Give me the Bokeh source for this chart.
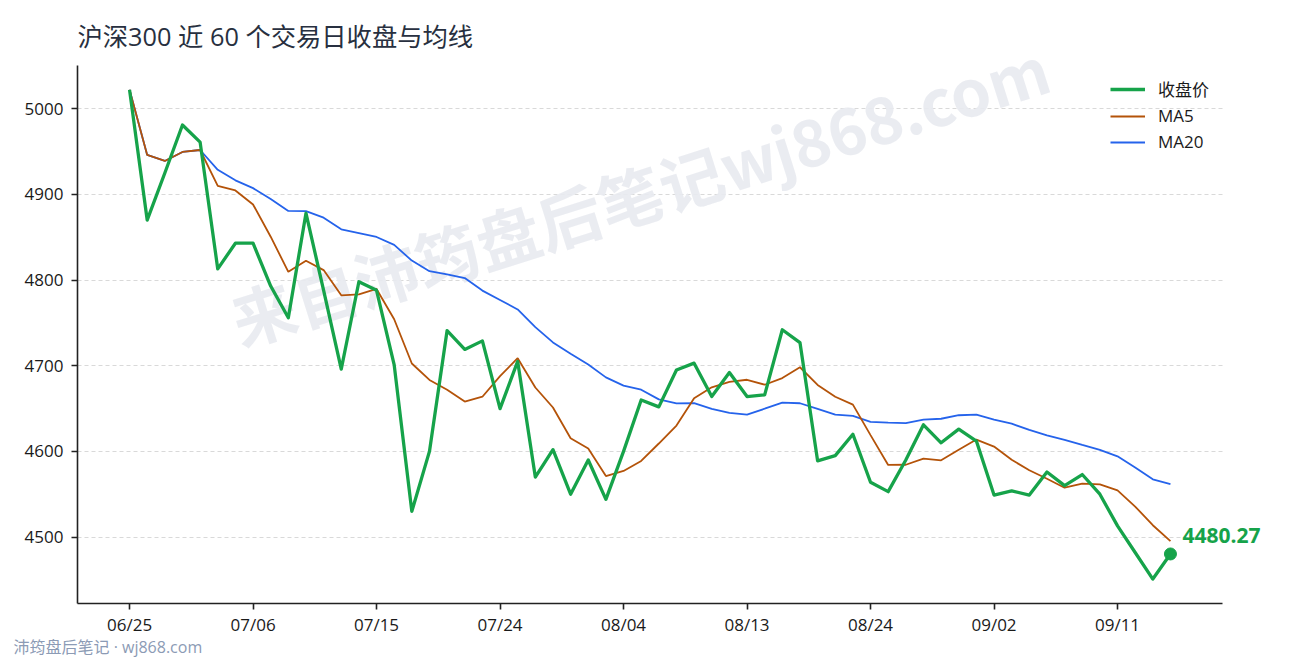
from bokeh.plotting import figure
from bokeh.models import Range1d, FixedTicker, Label, Legend, LegendItem
from bokeh.embed import file_html
from bokeh.resources import INLINE

# ---------------- data ----------------
dates = ["06/25", "06/26", "06/29", "06/30", "07/01", "07/02", "07/03", "07/06", "07/07", "07/08",
         "07/09", "07/10", "07/13", "07/14", "07/15", "07/16", "07/17", "07/20", "07/21", "07/22",
         "07/23", "07/24", "07/27", "07/28", "07/29", "07/30", "07/31", "08/03", "08/04", "08/05",
         "08/06", "08/07", "08/10", "08/11", "08/12", "08/13", "08/14", "08/17", "08/18", "08/19",
         "08/20", "08/21", "08/24", "08/25", "08/26", "08/27", "08/28", "08/31", "09/01", "09/02",
         "09/03", "09/04", "09/07", "09/08", "09/09", "09/10", "09/11", "09/14", "09/15", "09/16"]

close = [5022, 4870, 4925, 4981, 4961, 4813, 4843, 4843, 4793, 4756,
         4878, 4788, 4696, 4798, 4788, 4701, 4530, 4600, 4741, 4719,
         4729, 4650, 4705, 4570, 4602, 4550, 4590, 4544, 4600, 4660,
         4652, 4695, 4703, 4664, 4692, 4664, 4666, 4742, 4727, 4589,
         4595, 4620, 4564, 4553, 4590, 4631, 4610, 4626, 4612, 4549,
         4554, 4549, 4576, 4560, 4573, 4550, 4513, 4482, 4451, 4480.27]

ma5 = [5022.0, 4946.0, 4939.0, 4949.5, 4951.8, 4910.0, 4904.6, 4888.2, 4850.6, 4809.6,
       4822.6, 4811.6, 4782.2, 4783.2, 4789.6, 4754.2, 4702.6, 4683.4, 4672.0, 4658.2,
       4663.8, 4687.8, 4708.8, 4674.6, 4651.2, 4615.4, 4603.4, 4571.2, 4577.2, 4588.8,
       4609.2, 4630.2, 4662.0, 4674.8, 4681.2, 4683.6, 4677.8, 4685.6, 4698.2, 4677.6,
       4663.8, 4654.6, 4619.0, 4584.2, 4584.4, 4591.6, 4589.6, 4602.0, 4613.8, 4605.6,
       4590.2, 4578.0, 4568.0, 4557.6, 4562.4, 4561.6, 4554.4, 4535.6, 4513.8, 4495.3]

ma20 = [5022.0, 4946.0, 4939.0, 4949.5, 4951.8, 4928.7, 4916.4, 4907.3, 4894.6, 4880.7,
        4880.5, 4872.8, 4859.2, 4854.8, 4850.3, 4841.0, 4822.7, 4810.3, 4806.7, 4802.3,
        4787.7, 4776.7, 4765.7, 4745.1, 4727.2, 4714.0, 4701.4, 4686.4, 4676.8, 4672.0,
        4660.7, 4656.0, 4656.4, 4649.7, 4644.9, 4643.0, 4649.8, 4656.9, 4656.2, 4649.7,
        4643.0, 4641.5, 4634.5, 4633.6, 4633.0, 4637.1, 4638.1, 4642.2, 4642.8, 4637.2,
        4632.3, 4625.0, 4618.7, 4613.5, 4607.5, 4601.8, 4594.2, 4581.2, 4567.4, 4561.9]

y_ticks = [4500, 4600, 4700, 4800, 4900, 5000]
tick_step = 7

title_text = "沪深300 近 60 个交易日收盘与均线"
legend_labels = ["收盘价", "MA5", "MA20"]
watermark_text = "来自沛筠盘后笔记wj868.com"
footer_text = "沛筠盘后笔记 · wj868.com"

# ---------------- styling / layout ----------------
GREEN = "#16a34a"
ORANGE = "#b45309"
BLUE = "#2563eb"
FONT = "'Open Sans', 'Noto Sans CJK SC', sans-serif"
LATIN = "Open Sans"
CJK = "'Noto Sans CJK SC', sans-serif"

W, H = 1290, 660
AX_LEFT, AX_RIGHT = 77, 1222      # pixel extent of the axes box
AX_TOP, AX_BOTTOM = 65, 604

n = len(close)
xs = list(range(n))
xpad = 0.05 * (n - 1)
x0, x1 = -xpad, n - 1 + xpad
lo = min(min(close), min(ma5), min(ma20))
hi = max(max(close), max(ma5), max(ma20))
ypad = 0.05 * (hi - lo)
y0, y1 = lo - ypad, hi + ypad

sx = (AX_RIGHT - AX_LEFT) / (x1 - x0)      # px per x unit
sy = (AX_BOTTOM - AX_TOP) / (y1 - y0)      # px per y unit
x_end = x1 + (W - AX_RIGHT) / sx            # frame extends to the canvas edge
y_end = y1 + AX_TOP / sy                    # frame extends to the canvas top

p = figure(width=W, height=H, output_backend="svg", toolbar_location=None,
           x_range=Range1d(x0, x_end), y_range=Range1d(y0, y_end),
           min_border_left=AX_LEFT, min_border_right=0, min_border_top=0,
           min_border_bottom=H - AX_BOTTOM)
p.outline_line_color = None
p.background_fill_color = "white"
p.border_fill_color = "white"

# axes
tick_idx = list(range(0, n, tick_step))
p.xaxis.ticker = FixedTicker(ticks=tick_idx)
p.xaxis.major_label_overrides = {i: dates[i] for i in tick_idx}
p.xaxis.bounds = (x0, x1)
p.yaxis.ticker = FixedTicker(ticks=y_ticks)
p.yaxis.bounds = (y0, y1)
for ax in (p.xaxis[0], p.yaxis[0]):
    ax.axis_line_color = "#222222"
    ax.axis_line_width = 1.6
    ax.major_tick_line_color = "#222222"
    ax.major_tick_line_width = 1.6
    ax.major_tick_out = 6
    ax.major_tick_in = 0
    ax.minor_tick_line_color = None
    ax.major_label_text_font = LATIN
    ax.major_label_text_font_size = "17px"
    ax.major_label_text_color = "#1a1a1a"
p.xaxis.major_label_standoff = 3
p.yaxis.major_label_standoff = 8

# grid (horizontal dashed only, limited to the axes box)
p.xgrid.grid_line_color = None
grid_ok = True
try:
    p.ygrid.cross_bounds = (x0, x1)
except Exception:
    grid_ok = False
if grid_ok:
    p.ygrid.grid_line_color = "#d9d9d9"
    p.ygrid.grid_line_dash = "4 3"
    p.ygrid.grid_line_width = 1
else:
    p.ygrid.grid_line_color = None
    p.segment(x0=[x0] * len(y_ticks), y0=y_ticks, x1=[x1] * len(y_ticks), y1=y_ticks,
              line_color="#d9d9d9", line_dash="4 3", line_width=1, level="underlay")

# watermark
p.add_layout(Label(x=28.9, y=4902.3, text=watermark_text, angle=17.5, angle_units="deg",
                   text_align="center", text_baseline="middle", text_font=CJK,
                   text_font_style="bold", text_font_size="64px", text_color="#e8eaf0",
                   text_alpha=0.9, level="underlay"))

# lines
r20 = p.line(xs, ma20, line_color=BLUE, line_width=1.8)
r5 = p.line(xs, ma5, line_color=ORANGE, line_width=1.8)
rc = p.line(xs, close, line_color=GREEN, line_width=3.3, line_join="round")
p.scatter([xs[-1]], [close[-1]], size=12, fill_color=GREEN, line_color=GREEN)

p.add_layout(Label(x=xs[-1], y=close[-1], text=f"{close[-1]:.2f}", x_offset=12, y_offset=18,
                   text_align="left", text_baseline="middle", text_font=LATIN,
                   text_font_style="bold", text_font_size="21px", text_color=GREEN))

legend = Legend(items=[LegendItem(label=legend_labels[0], renderers=[rc]),
                       LegendItem(label=legend_labels[1], renderers=[r5]),
                       LegendItem(label=legend_labels[2], renderers=[r20])],
                location=(1033, 450), margin=0, padding=10, spacing=3,
                glyph_width=35, glyph_height=20, label_height=20, label_standoff=13,
                label_text_font=FONT, label_text_font_size="17px", label_text_color="#1a1a1a",
                border_line_color=None, background_fill_alpha=0)
p.add_layout(legend)

# title (inside the frame, above the axes box), screen units from frame bottom-left
p.add_layout(Label(x=0, y=AX_BOTTOM - 36, x_units="screen", y_units="screen", text=title_text,
                   text_align="left", text_baseline="middle", text_font=FONT,
                   text_font_size="25.3px", text_color="#283040"))

# footer below the x axis (side panel, positioned in data units)
p.add_layout(Label(x=x0 + (13 - AX_LEFT) / sx, y=y0 - (648 - AX_BOTTOM) / sy, text=footer_text,
                   text_align="left", text_baseline="middle", text_font=FONT,
                   text_font_size="16px", text_color="#8c9bb5"), "below")

open("out.html", "w").write(file_html(p, INLINE))
